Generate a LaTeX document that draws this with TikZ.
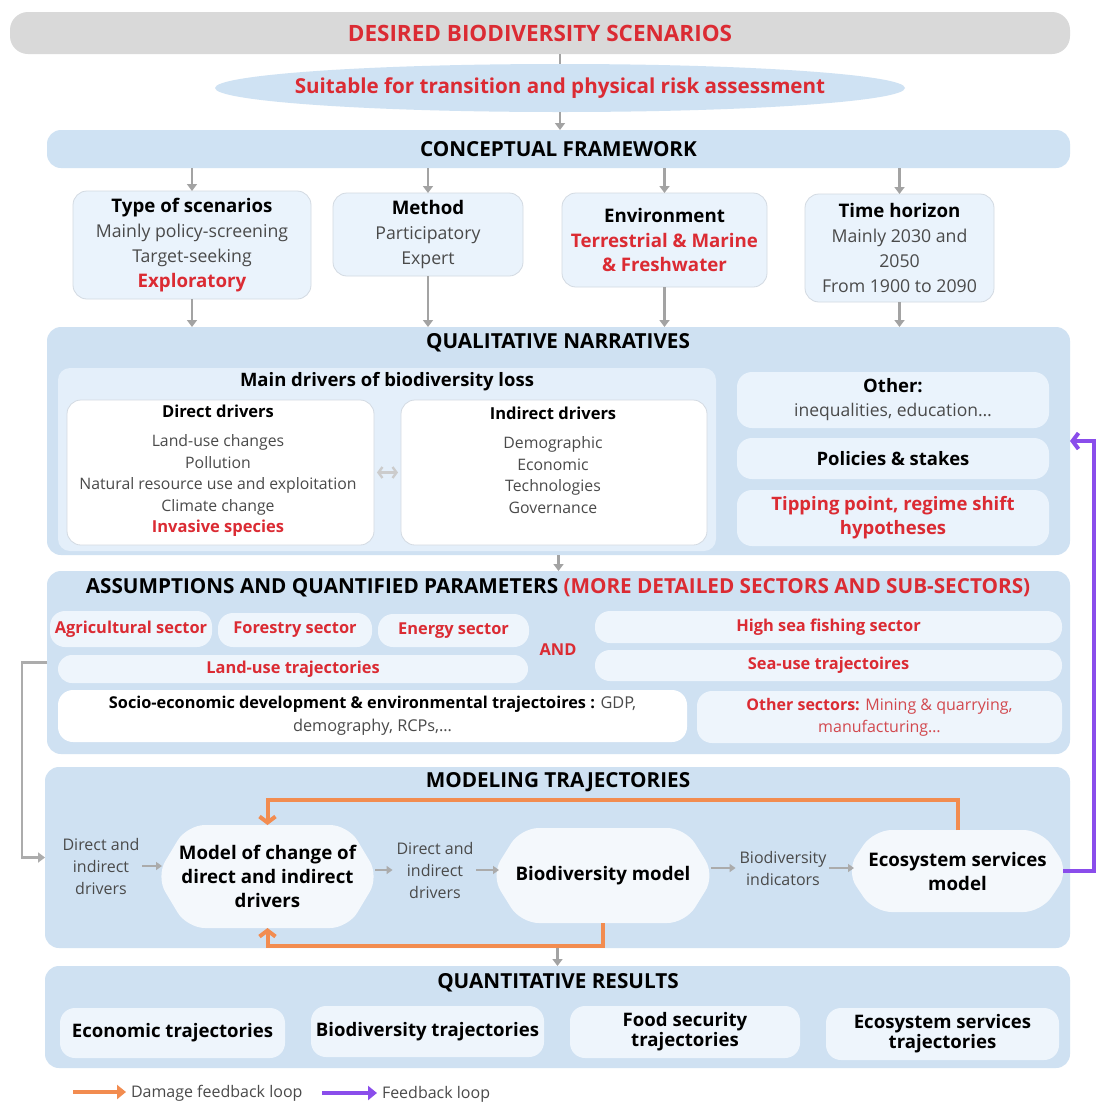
\documentclass[tikz,border=0pt]{standalone}
\usepackage{fontspec}
\setmainfont{Open Sans}
\usetikzlibrary{arrows.meta,shapes.symbols,shapes.geometric,calc}

\definecolor{barblue}{HTML}{CFE2F3}
\definecolor{contblue}{HTML}{CFE1F2}
\definecolor{boxblue}{HTML}{EAF3FC}
\definecolor{innerblue}{HTML}{E4EFFA}
\definecolor{pillblue}{HTML}{EEF5FC}
\definecolor{hexwhite}{HTML}{F4F8FC}
\definecolor{bargray}{HTML}{D9D9D9}
\definecolor{hred}{HTML}{DB2B33}
\definecolor{sred}{HTML}{D2484E}
\definecolor{txtgray}{HTML}{4A4A4A}
\definecolor{argray}{HTML}{A3A3A3}
\definecolor{lightar}{HTML}{ABABAB}
\definecolor{dmg}{HTML}{F28C50}
\definecolor{fbk}{HTML}{8A4DEB}
\definecolor{edge}{HTML}{D3DAE2}

\newcommand\fsz[2]{\fontsize{#1}{#2}\selectfont}
% bold heading face used inside the framework boxes
\newcommand\cfhead{\bfseries\fsz{18.7}{24.8}}

\begin{document}
\begin{tikzpicture}[x=1pt,y=-1pt,
  every node/.style={inner sep=0pt,outer sep=0pt},
  container/.style={fill=contblue,rounded corners=14pt},
  headbar/.style={fill=barblue,rounded corners=14pt},
  title/.style={font=\bfseries\fsz{20.7}{25}},
  cfbox/.style={fill=boxblue,draw=edge,line width=0.8pt,rounded corners=14pt,
    align=center,text=txtgray,font=\fsz{17.7}{24.8}},
  whitebox/.style={fill=white,draw=edge,line width=0.8pt,rounded corners=14pt},
  sidebox/.style={fill=boxblue,rounded corners=15pt},
  pill/.style={fill=pillblue,rounded corners=15pt},
  redbold/.style={text=hred,font=\bfseries\fsz{16.4}{20}},
  graytxt/.style={text=txtgray,align=center,font=\fsz{15.8}{21.5}},
  hexnode/.style={signal,signal to=east and west,fill=hexwhite,rounded corners=18pt},
  hextxt/.style={align=center,font=\bfseries\fsz{18.7}{24}},
  resbox/.style={fill=pillblue,rounded corners=15pt,align=center,font=\bfseries\fsz{18.6}{20}},
  garrow/.style={draw=argray,line width=2.5pt,-{Triangle[width=10pt,length=7pt]}},
  gline/.style={draw=argray,line width=2pt},
  sarrow/.style={draw=lightar,line width=2pt,-{Triangle[width=8pt,length=6pt]}},
  dblarrow/.style={draw=gray!40,line width=2.4pt,{Straight Barb[length=4pt,width=11pt]}-{Straight Barb[length=4pt,width=11pt]}},
  oarrow/.style={draw=dmg,line width=4pt,-{Straight Barb[length=6pt,width=16pt]}},
  parrow/.style={draw=fbk,line width=4pt,-{Straight Barb[length=6pt,width=16pt]}},
  olegend/.style={draw=dmg,line width=4pt,-{Triangle[length=9pt,width=14pt]}},
  plegend/.style={draw=fbk,line width=4pt,-{Triangle[length=9pt,width=14pt]}},
  legtxt/.style={text=txtgray,font=\fsz{16}{20},anchor=west}]

\fill[white] (0,0) rectangle (1098,1104);
\useasboundingbox (0,0) rectangle (1098,1104);

% ---------- top of the chain ----------
\node[fill=bargray,rounded corners=18pt,minimum width=1060,minimum height=42] (desired) at (540,33)
  {\textcolor{hred}{\bfseries\fsz{22.5}{26}DESIRED BIODIVERSITY SCENARIOS}};
\node[ellipse,fill=barblue,minimum width=690,minimum height=48] (suit) at (560,88) {};
\node[text=hred,font=\bfseries\fsz{20.6}{24}] (suitt) at (suit.center) {Suitable for transition and physical risk assessment};
\node[headbar,minimum width=1023,minimum height=38,title] (cf) at (558.5,149) {CONCEPTUAL FRAMEWORK};

\draw[gline] (suit.north |- desired.south) -- (suit.north);
\draw[garrow] (suit.south) -- (suit.south |- cf.north);

% ---------- framework boxes ----------
\node[cfbox,minimum width=238,minimum height=108] (type) at (192,245)
  {\textcolor{black}{\cfhead Type of scenarios}\\Mainly policy-screening\\Target-seeking\\\textcolor{hred}{\cfhead Exploratory}};
\node[cfbox,minimum width=190,minimum height=83] (method) at (428,234.5)
  {\textcolor{black}{\cfhead Method}\\Participatory\\Expert};
\node[cfbox,minimum width=205,minimum height=94] (env) at (664.5,240)
  {\textcolor{black}{\cfhead Environment}\\\textcolor{hred}{\cfhead Terrestrial \& Marine}\\\textcolor{hred}{\cfhead \& Freshwater}};
\node[cfbox,minimum width=189,minimum height=108] (time) at (899.5,248)
  {\textcolor{black}{\cfhead Time horizon}\\Mainly 2030 and\\2050\\From 1900 to 2090};

% ---------- qualitative narratives ----------
\node[container,minimum width=1023,minimum height=228] (qual) at (558.5,441) {};
\node[title] (qualt) at (558,343) {QUALITATIVE NARRATIVES};
\node[fill=innerblue,rounded corners=12pt,minimum width=658,minimum height=183] (maind) at (387,459.5) {};
\node[font=\bfseries\fsz{18.5}{22}] (maindt) at (387,382) {Main drivers of biodiversity loss};
\node[whitebox,minimum width=307,minimum height=145] (direct) at (220.5,472.5) {};
\node[whitebox,minimum width=306,minimum height=145] (indirect) at (554,472.5) {};
\node[graytxt] (directt) at (218,471)
  {\textcolor{black}{\bfseries\fsz{16.5}{21.5}Direct drivers}\\[7.5pt]Land-use changes\\Pollution\\Natural resource use and exploitation\\Climate change\\\textcolor{hred}{\bfseries\fsz{16.5}{21.5}Invasive species}};
\node[graytxt] (indirectt) at (553,460.5)
  {\textcolor{black}{\bfseries\fsz{16.5}{21.5}Indirect drivers}\\[7.5pt]Demographic\\Economic\\Technologies\\Governance};
\draw[dblarrow,shorten <=3pt,shorten >=3pt] (direct.east) -- (indirect.west);

\node[sidebox,minimum width=312,minimum height=56,align=center,font=\fsz{17.5}{24},text=txtgray] (other) at (893,400)
  {\textcolor{black}{\bfseries\fsz{18.5}{24}Other:}\\inequalities, education…};
\node[sidebox,minimum width=312,minimum height=41,font=\bfseries\fsz{18.5}{22}] (policies) at (893,458.5) {Policies \& stakes};
\node[sidebox,minimum width=312,minimum height=56,align=center,text=hred,font=\bfseries\fsz{18.5}{24}] (tipping) at (893,518)
  {Tipping point, regime shift\\hypotheses};

\foreach \b in {type,method,env,time}{
  \draw[garrow] (cf.south -| \b.north) -- (\b.north);
  \draw[garrow] (\b.south) -- (\b.south |- qual.north);
}

% ---------- assumptions ----------
\node[container,minimum width=1023,minimum height=183] (assump) at (558.5,662.5) {};
\node[title] (assumpt) at (558,588)
  {ASSUMPTIONS AND QUANTIFIED PARAMETERS \textcolor{hred}{(MORE DETAILED SECTORS AND SUB-SECTORS)}};
\draw[garrow] (qual.south) -- (assump.north);

\node[pill,minimum width=162,minimum height=36,redbold] (agri) at (131,629) {Agricultural sector};
\node[pill,minimum width=154,minimum height=34,redbold] (forest) at (295,630) {Forestry sector};
\node[pill,minimum width=151,minimum height=33,redbold] (energy) at (453.5,630.5) {Energy sector};
\node[pill,minimum width=470,minimum height=28,redbold,rounded corners=14pt] (landuse) at (293,669) {Land-use trajectories};
\node[redbold] (andt) at (558,650) {AND};
\node[pill,minimum width=467,minimum height=32,redbold] (fishing) at (828.5,627) {High sea fishing sector};
\node[pill,minimum width=467,minimum height=31,redbold] (seause) at (828.5,665.5) {Sea-use trajectoires};
\node[fill=white,rounded corners=15pt,minimum width=629,minimum height=52,align=center,text=txtgray,font=\fsz{16.3}{23}] (socio) at (372.5,716)
  {\textcolor{black}{\bfseries Socio-economic development \& environmental trajectoires :} GDP,\\demography, RCPs,…};
\node[pill,minimum width=365,minimum height=52,align=center,text=sred,font=\fsz{16}{22}] (othersec) at (879.5,717)
  {\textcolor{hred}{\bfseries Other sectors:} Mining \& quarrying,\\manufacturing…};

% ---------- modeling trajectories ----------
\node[container,minimum width=1025,minimum height=181] (modeling) at (557.5,857.5) {};
\node[title] (modelingt) at (558,782) {MODELING TRAJECTORIES};

\node[graytxt,font=\fsz{16}{22}] (drv1) at (101,866) {Direct and\\indirect\\drivers};
\node[hexnode,minimum width=223,minimum height=103,signal pointer angle=118] (moc) at (267.5,876.5) {};
\node[hextxt] (moct) at (moc.center) {Model of change of\\direct and indirect\\drivers};
\node[graytxt,font=\fsz{16}{22}] (drv2) at (435,870) {Direct and\\indirect\\drivers};
\node[hexnode,minimum width=224,minimum height=95,signal pointer angle=116] (biom) at (603,875.5) {};
\node[hextxt] (biomt) at (biom.center) {Biodiversity model};
\node[graytxt,font=\fsz{16}{22}] (bind) at (783,868) {Biodiversity\\indicators};
\node[hexnode,minimum width=223,minimum height=82,signal pointer angle=112] (ecom) at (957.5,871) {};
\node[hextxt] (ecomt) at (ecom.center) {Ecosystem services\\model};

\draw[sarrow] ([xshift=3]drv1.east) -- ([xshift=6]drv1.east -| moc.west);
\draw[sarrow] ([xshift=-4]moc.east |- drv2.west) -- ([xshift=-4]drv2.west);
\draw[sarrow] ([xshift=3]drv2.east) -- ([xshift=8]drv2.east -| biom.west);
\draw[sarrow] ([xshift=-4]biom.east |- bind.west) -- ([xshift=-4]bind.west);
\draw[sarrow] ([xshift=3]bind.east) -- ([xshift=8]bind.east -| ecom.west);

% link from the assumptions into the models
\draw[garrow,draw=argray!90] (assump.west) -- ++(-25,0) |- (modeling.west);

% damage feedback loops
\draw[oarrow] (ecom.north) |- ($(moc.north)+(0,-25)$) -- (moc.north);
\draw[oarrow] (biom.south) |- ($(moc.south)+(0,18)$) -- (moc.south);

% feedback loop to the narratives
\coordinate (fbturn) at (1094,0);
\draw[parrow] ([xshift=-6]ecom.east) -- (ecom.east -| fbturn) |- (qual.east);

% ---------- quantitative results ----------
\node[container,minimum width=1025,minimum height=102] (results) at (557.5,1017) {};
\node[title] (resultst) at (558,983) {QUANTITATIVE RESULTS};
\draw[garrow] (modeling.south) -- (results.north);

\node[resbox,minimum width=225,minimum height=50] (reco) at (172.5,1033) {Economic trajectories};
\node[resbox,minimum width=233,minimum height=51] (rbio) at (427.5,1031.5) {Biodiversity trajectories};
\node[resbox,minimum width=230,minimum height=52] (rfood) at (685,1032) {Food security\\trajectories};
\node[resbox,minimum width=233,minimum height=52] (reser) at (942.5,1034) {Ecosystem services\\trajectories};

% ---------- legend ----------
\coordinate (lo) at (73,1092);
\node[legtxt] (lot) at (131,1093) {Damage feedback loop};
\draw[olegend] (lo) -- ([xshift=-5]lot.west |- lo);
\coordinate (lp) at (322,1093);
\node[legtxt] (lpt) at (382,1094) {Feedback loop};
\draw[plegend] (lp) -- ([xshift=-5]lpt.west |- lp);

\end{tikzpicture}
\end{document}
